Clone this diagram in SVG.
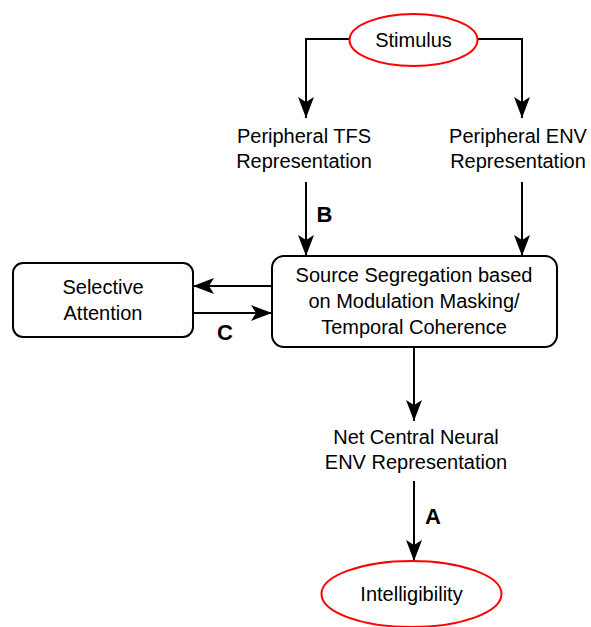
<svg xmlns="http://www.w3.org/2000/svg" width="591" height="627" viewBox="0 0 591 627">
<style>
text{font-family:"Liberation Sans",Arial,sans-serif;font-size:20px;fill:#000;text-anchor:middle;dominant-baseline:central}
.lbl{font-weight:bold;font-size:22px}
.oval{fill:#fff;stroke:#ff0000;stroke-width:2}
.box{fill:#fff;stroke:#000;stroke-width:2}
.edge{fill:none;stroke:#000;stroke-width:2;marker-end:url(#arr)}
</style>
<defs>
<marker id="arr" markerUnits="userSpaceOnUse" markerWidth="24" markerHeight="20" viewBox="-22 -10 24 20" refX="0" refY="0" orient="auto">
<path d="M0,0 L-21,-8 L-16,0 L-21,8 Z" fill="#000"/>
</marker>
</defs>
<rect width="591" height="627" fill="#fff"/>
<g id="connectors">
<path class="edge" d="M349,39 H306 V118"/>
<path class="edge" d="M478,39 H522 V118"/>
<path class="edge" d="M306,182 V256"/>
<path class="edge" d="M522,182 V256"/>
<path class="edge" d="M272,286 H193"/>
<path class="edge" d="M193,313 H272"/>
<path class="edge" d="M414,347 V421"/>
<path class="edge" d="M414,481 V561"/>
<text class="lbl" x="324.5" y="214">B</text>
<text class="lbl" x="225" y="332">C</text>
<text class="lbl" x="433" y="516">A</text>
</g>
<g id="stimulus">
<ellipse class="oval" cx="413.5" cy="40" rx="64" ry="26"/>
<text x="413.5" y="40">Stimulus</text>
</g>
<g id="tfs">
<text x="304" y="136">Peripheral TFS</text>
<text x="304" y="161">Representation</text>
</g>
<g id="env">
<text x="518" y="136">Peripheral ENV</text>
<text x="518" y="161">Representation</text>
</g>
<g id="source">
<rect class="box" x="272" y="256" width="285" height="91" rx="12"/>
<text x="414" y="275">Source Segregation based</text>
<text x="414" y="301">on Modulation Masking/</text>
<text x="414" y="327">Temporal Coherence</text>
</g>
<g id="attention">
<rect class="box" x="13" y="263" width="180" height="74" rx="10"/>
<text x="103" y="287">Selective</text>
<text x="103" y="313">Attention</text>
</g>
<g id="central">
<text x="416" y="437">Net Central Neural</text>
<text x="416" y="462">ENV Representation</text>
</g>
<g id="intelligibility">
<ellipse class="oval" cx="411.5" cy="594" rx="90" ry="33"/>
<text x="411.5" y="594">Intelligibility</text>
</g>
</svg>
